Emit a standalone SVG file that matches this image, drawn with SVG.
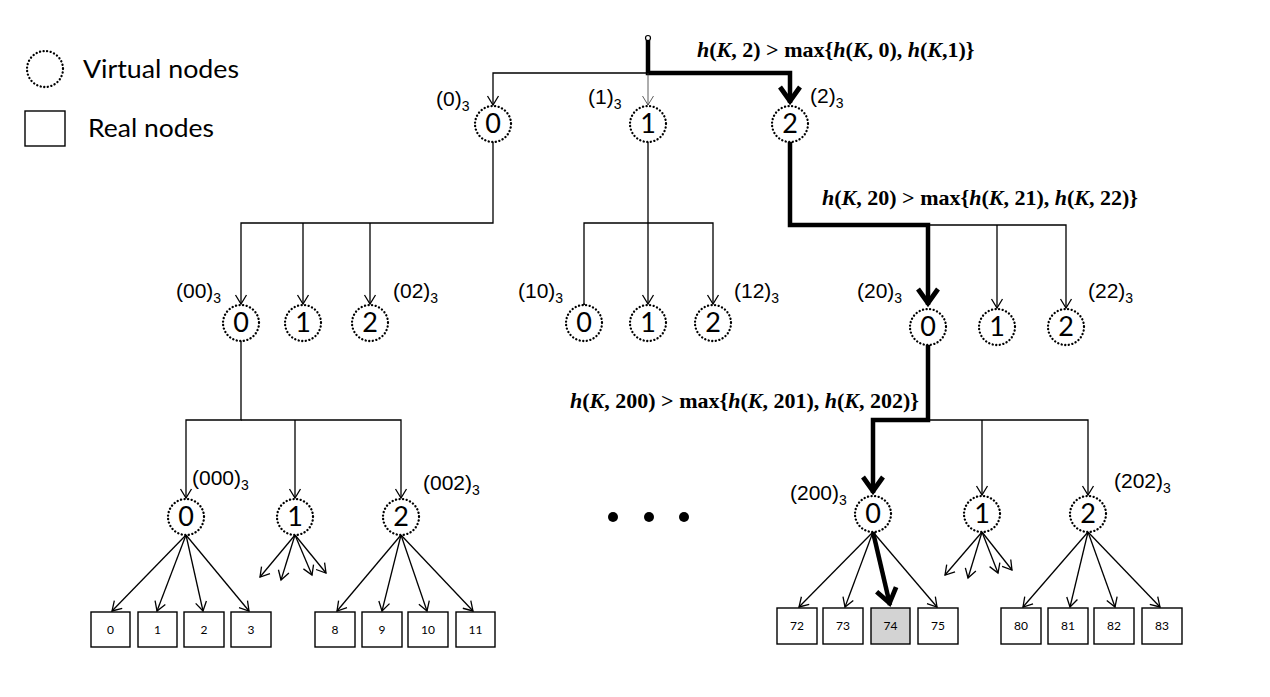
<svg xmlns="http://www.w3.org/2000/svg" width="1270" height="697" viewBox="0 0 1270 697">
<style>
.vn{fill:#fff;stroke:#000;stroke-width:2.3;stroke-dasharray:0.1 3.5;stroke-linecap:round}
.rn{fill:#fff;stroke:#000;stroke-width:1.4}
.dg{font-family:Lato,"Open Sans","Liberation Sans",sans-serif;font-size:27px;text-anchor:middle;fill:#000}
.bx{font-family:Lato,"Open Sans","Liberation Sans",sans-serif;font-size:12px;text-anchor:middle;fill:#000}
.lb{font-family:"Liberation Sans",Arial,sans-serif;font-size:21px;fill:#000}
.sb{font-size:14px}
.fm{font-family:"Liberation Serif","Times New Roman",serif;font-size:22px;font-weight:bold;fill:#000}
.it{font-style:italic}
.lg{font-family:Lato,"Open Sans","Liberation Sans",sans-serif;font-size:25px;fill:#000}
.t{fill:none;stroke:#000;stroke-width:1.3}
.tl{fill:none;stroke:#333;stroke-width:0.8}
.k{fill:none;stroke:#000;stroke-width:4.5;stroke-linejoin:miter}
</style>
<defs>
<marker id="a" markerUnits="userSpaceOnUse" markerWidth="20" markerHeight="20" viewBox="-12 -10 20 20" refX="0" refY="0" orient="auto" overflow="visible"><path d="M-9,-5.5 L0,0 L-9,5.5" fill="none" stroke="#000" stroke-width="1.3"/></marker>
<marker id="aL" markerUnits="userSpaceOnUse" markerWidth="20" markerHeight="20" viewBox="-12 -10 20 20" refX="0" refY="0" orient="auto" overflow="visible"><path d="M-9,-5.5 L0,0 L-9,5.5" fill="none" stroke="#333" stroke-width="0.8"/></marker>
<marker id="aT" markerUnits="userSpaceOnUse" markerWidth="30" markerHeight="30" viewBox="-20 -15 30 30" refX="0" refY="0" orient="auto" overflow="visible"><path d="M-16,-10 L-2,0 L-16,10" fill="none" stroke="#000" stroke-width="4.8" stroke-linejoin="miter" stroke-miterlimit="10"/></marker>
</defs>
<rect width="1270" height="697" fill="#fff"/>

<g id="legend">
<g id="legend-virtual"><circle class="vn" cx="45" cy="69" r="18"/><text class="lg" x="83" y="78" textLength="156" lengthAdjust="spacingAndGlyphs">Virtual nodes</text></g>
<g id="legend-real"><rect class="rn" x="25" y="111" width="40" height="35"/><text class="lg" x="88" y="137" textLength="126" lengthAdjust="spacingAndGlyphs">Real nodes</text></g>
</g>

<g id="connectors">
<path class="k" d="M648,40 V73 H790 V103" marker-end="url(#aT)"/>
<path class="t" d="M648,73 H493 V105" marker-end="url(#a)"/>
<path class="tl" d="M648,73 V105" marker-end="url(#aL)"/>
<path class="t" d="M493,142 V223 H241 V304" marker-end="url(#a)"/>
<path class="t" d="M303,223 V304" marker-end="url(#a)"/>
<path class="t" d="M370,223 V304" marker-end="url(#a)"/>
<path class="t" d="M648,142 V304" marker-end="url(#a)"/>
<path class="t" d="M584,304 V223 H713 V304" marker-start="url(#a)" marker-end="url(#a)"/>
<path class="k" d="M790,142 V225 H928 V305" marker-end="url(#aT)"/>
<path class="t" d="M928,225 H1066 V308" marker-end="url(#a)"/>
<path class="t" d="M997,225 V308" marker-end="url(#a)"/>
<path class="t" d="M241,341 V420 H186 V498" marker-end="url(#a)"/>
<path class="t" d="M241,420 H401 V498" marker-end="url(#a)"/>
<path class="t" d="M295,420 V498" marker-end="url(#a)"/>
<path class="k" d="M928,345 V420 H873 V493" marker-end="url(#aT)"/>
<path class="t" d="M928,420 H1088 V495" marker-end="url(#a)"/>
<path class="t" d="M982,420 V495" marker-end="url(#a)"/>
<path class="t" d="M186,535 L112,611" marker-end="url(#a)"/>
<path class="t" d="M186,535 L157,611" marker-end="url(#a)"/>
<path class="t" d="M186,535 L203,611" marker-end="url(#a)"/>
<path class="t" d="M186,535 L249,611" marker-end="url(#a)"/>
<path class="t" d="M295,535 L260,577" marker-end="url(#a)"/>
<path class="t" d="M295,535 L281,580" marker-end="url(#a)"/>
<path class="t" d="M295,535 L312,575" marker-end="url(#a)"/>
<path class="t" d="M295,535 L326,573" marker-end="url(#a)"/>
<path class="t" d="M401,535 L337,611" marker-end="url(#a)"/>
<path class="t" d="M401,535 L382,611" marker-end="url(#a)"/>
<path class="t" d="M401,535 L427,611" marker-end="url(#a)"/>
<path class="t" d="M401,535 L473,611" marker-end="url(#a)"/>
<path class="t" d="M873,532 L799,607" marker-end="url(#a)"/>
<path class="t" d="M873,532 L845,607" marker-end="url(#a)"/>
<path class="k" d="M873,532 L890,605" marker-end="url(#aT)"/>
<path class="t" d="M873,532 L937,607" marker-end="url(#a)"/>
<path class="t" d="M982,532 L945,575" marker-end="url(#a)"/>
<path class="t" d="M982,532 L968,578" marker-end="url(#a)"/>
<path class="t" d="M982,532 L998,573" marker-end="url(#a)"/>
<path class="t" d="M982,532 L1012,570" marker-end="url(#a)"/>
<path class="t" d="M1088,532 L1023,607" marker-end="url(#a)"/>
<path class="t" d="M1088,532 L1070,607" marker-end="url(#a)"/>
<path class="t" d="M1088,532 L1115,607" marker-end="url(#a)"/>
<path class="t" d="M1088,532 L1160,607" marker-end="url(#a)"/>
</g>

<g id="root"><circle cx="648" cy="38" r="2.5" fill="#fff" stroke="#000" stroke-width="1.2"/></g>

<g id="formulas">
<text class="fm" x="697" y="57"><tspan class="it">h</tspan>(<tspan class="it">K</tspan>, 2) &gt; max{<tspan class="it">h</tspan>(<tspan class="it">K</tspan>, 0), <tspan class="it">h</tspan>(<tspan class="it">K</tspan>,1)}</text>
<text class="fm" x="822" y="205"><tspan class="it">h</tspan>(<tspan class="it">K</tspan>, 20) &gt; max{<tspan class="it">h</tspan>(<tspan class="it">K</tspan>, 21), <tspan class="it">h</tspan>(<tspan class="it">K</tspan>, 22)}</text>
<text class="fm" x="570" y="408"><tspan class="it">h</tspan>(<tspan class="it">K</tspan>, 200) &gt; max{<tspan class="it">h</tspan>(<tspan class="it">K</tspan>, 201), <tspan class="it">h</tspan>(<tspan class="it">K</tspan>, 202)}</text>
</g>

<g id="v0"><circle class="vn" cx="493" cy="124" r="18"/><text class="dg" x="493" y="133">0</text><text class="lb" x="436" y="106">(0)<tspan class="sb" dy="5">3</tspan></text></g>
<g id="v1"><circle class="vn" cx="648" cy="124" r="18"/><text class="dg" x="648" y="133">1</text><text class="lb" x="588" y="104">(1)<tspan class="sb" dy="5">3</tspan></text></g>
<g id="v2"><circle class="vn" cx="790" cy="124" r="18"/><text class="dg" x="790" y="133">2</text><text class="lb" x="810" y="103">(2)<tspan class="sb" dy="5">3</tspan></text></g>

<g id="v00"><circle class="vn" cx="241" cy="323" r="18"/><text class="dg" x="241" y="332">0</text><text class="lb" x="176" y="298">(00)<tspan class="sb" dy="5">3</tspan></text></g>
<g id="v01"><circle class="vn" cx="303" cy="323" r="18"/><text class="dg" x="303" y="332">1</text></g>
<g id="v02"><circle class="vn" cx="370" cy="323" r="18"/><text class="dg" x="370" y="332">2</text><text class="lb" x="393" y="298">(02)<tspan class="sb" dy="5">3</tspan></text></g>
<g id="v10"><circle class="vn" cx="584" cy="323" r="18"/><text class="dg" x="584" y="332">0</text><text class="lb" x="518" y="298">(10)<tspan class="sb" dy="5">3</tspan></text></g>
<g id="v11"><circle class="vn" cx="648" cy="323" r="18"/><text class="dg" x="648" y="332">1</text></g>
<g id="v12"><circle class="vn" cx="713" cy="323" r="18"/><text class="dg" x="713" y="332">2</text><text class="lb" x="734" y="298">(12)<tspan class="sb" dy="5">3</tspan></text></g>
<g id="v20"><circle class="vn" cx="928" cy="327" r="18"/><text class="dg" x="928" y="336">0</text><text class="lb" x="857" y="298">(20)<tspan class="sb" dy="5">3</tspan></text></g>
<g id="v21"><circle class="vn" cx="997" cy="327" r="18"/><text class="dg" x="997" y="336">1</text></g>
<g id="v22"><circle class="vn" cx="1066" cy="327" r="18"/><text class="dg" x="1066" y="336">2</text><text class="lb" x="1088" y="298">(22)<tspan class="sb" dy="5">3</tspan></text></g>

<g id="v000"><circle class="vn" cx="186" cy="517" r="18"/><text class="dg" x="186" y="526">0</text><text class="lb" x="192" y="485">(000)<tspan class="sb" dy="5">3</tspan></text></g>
<g id="v001"><circle class="vn" cx="295" cy="517" r="18"/><text class="dg" x="295" y="526">1</text></g>
<g id="v002"><circle class="vn" cx="401" cy="517" r="18"/><text class="dg" x="401" y="526">2</text><text class="lb" x="423" y="490">(002)<tspan class="sb" dy="5">3</tspan></text></g>
<g id="v200"><circle class="vn" cx="873" cy="514" r="18"/><text class="dg" x="873" y="523">0</text><text class="lb" x="790" y="500">(200)<tspan class="sb" dy="5">3</tspan></text></g>
<g id="v201"><circle class="vn" cx="982" cy="514" r="18"/><text class="dg" x="982" y="523">1</text></g>
<g id="v202"><circle class="vn" cx="1088" cy="514" r="18"/><text class="dg" x="1088" y="523">2</text><text class="lb" x="1114" y="488">(202)<tspan class="sb" dy="5">3</tspan></text></g>

<g id="ellipsis"><circle cx="613" cy="517" r="5" fill="#000"/><circle cx="649" cy="517" r="5" fill="#000"/><circle cx="684" cy="517" r="5" fill="#000"/></g>

<g id="r0"><rect class="rn" x="91" y="612" width="39" height="35"/><text class="bx" x="110.5" y="634">0</text></g>
<g id="r1"><rect class="rn" x="138" y="612" width="39" height="35"/><text class="bx" x="157.5" y="634">1</text></g>
<g id="r2"><rect class="rn" x="184" y="612" width="40" height="35"/><text class="bx" x="204" y="634">2</text></g>
<g id="r3"><rect class="rn" x="231" y="612" width="40" height="35"/><text class="bx" x="251" y="634">3</text></g>
<g id="r8"><rect class="rn" x="315" y="612" width="40" height="35"/><text class="bx" x="335" y="634">8</text></g>
<g id="r9"><rect class="rn" x="362" y="612" width="40" height="35"/><text class="bx" x="382" y="634">9</text></g>
<g id="r10"><rect class="rn" x="408" y="612" width="40" height="35"/><text class="bx" x="428" y="634">10</text></g>
<g id="r11"><rect class="rn" x="456" y="612" width="39" height="35"/><text class="bx" x="475.5" y="634">11</text></g>
<g id="r72"><rect class="rn" x="777" y="608" width="40" height="36"/><text class="bx" x="797" y="630">72</text></g>
<g id="r73"><rect class="rn" x="823" y="608" width="40" height="36"/><text class="bx" x="843" y="630">73</text></g>
<g id="r74"><rect class="rn" x="871" y="608" width="39" height="36" style="fill:#d3d3d3"/><text class="bx" x="890.5" y="630">74</text></g>
<g id="r75"><rect class="rn" x="918" y="608" width="40" height="36"/><text class="bx" x="938" y="630">75</text></g>
<g id="r80"><rect class="rn" x="1001" y="608" width="40" height="36"/><text class="bx" x="1021" y="630">80</text></g>
<g id="r81"><rect class="rn" x="1048" y="608" width="40" height="36"/><text class="bx" x="1068" y="630">81</text></g>
<g id="r82"><rect class="rn" x="1094" y="608" width="40" height="36"/><text class="bx" x="1114" y="630">82</text></g>
<g id="r83"><rect class="rn" x="1142" y="608" width="40" height="36"/><text class="bx" x="1162" y="630">83</text></g>
</svg>
